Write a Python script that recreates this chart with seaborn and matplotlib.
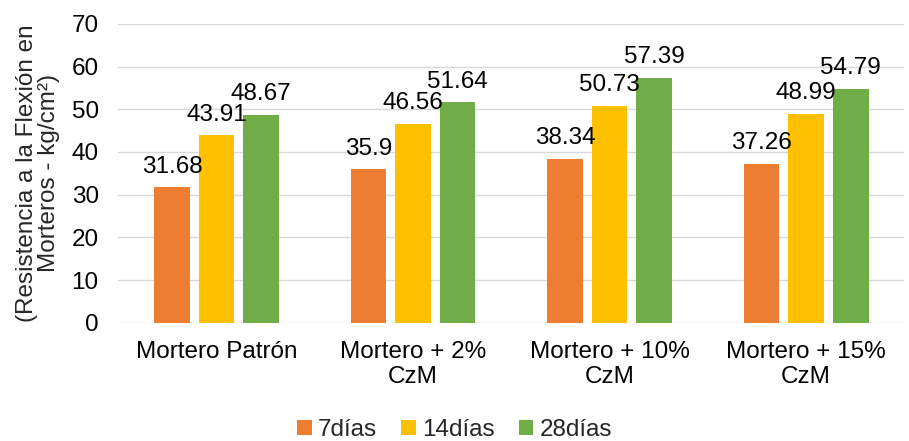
import pandas as pd
import matplotlib.pyplot as plt
import seaborn as sns

# Data
categories = ['Mortero Patrón', 'Mortero + 2%\nCzM', 'Mortero + 10%\nCzM', 'Mortero + 15%\nCzM']
series = ['7días', '14días', '28días']
dias_7 = [31.68, 35.9, 38.34, 37.26]
dias_14 = [43.91, 46.56, 50.73, 48.99]
dias_28 = [48.67, 51.64, 57.39, 54.79]
colors = ['#ED7D31', '#FFC000', '#70AD47']

df = pd.DataFrame({
    'Mezcla': categories * 3,
    'Serie': [s for s in series for _ in categories],
    'Valor': dias_7 + dias_14 + dias_28,
})

sns.set_style('white')
plt.rcParams['font.family'] = ['Liberation Sans', 'DejaVu Sans']
fs = 17.5

fig, ax = plt.subplots(figsize=(9.09, 4.41), dpi=100)
fig.subplots_adjust(left=0.13, right=0.995, top=0.946, bottom=0.268)

sns.barplot(data=df, x='Mezcla', y='Valor', hue='Serie', order=categories,
            hue_order=series, palette=colors, width=0.68, gap=0.2,
            saturation=1, linewidth=0, ax=ax, legend=True)

for container in ax.containers:
    ax.bar_label(container, labels=[f'{v:g}' for v in container.datavalues],
                 padding=7, fontsize=fs, color='#000000')

ax.set_ylim(0, 70)
ax.set_yticks(range(0, 71, 10))
ax.yaxis.grid(True, color='#D9D9D9', linewidth=1)
ax.set_axisbelow(True)
for side in ['top', 'right', 'left', 'bottom']:
    ax.spines[side].set_visible(False)
ax.tick_params(axis='y', length=0, labelsize=fs, colors='#000000', pad=14)
ax.tick_params(axis='x', length=0, labelsize=fs, colors='#000000', pad=13)
for lbl in ax.get_xticklabels():
    lbl.set_linespacing(1.2)
ax.set_xlabel('')
ax.set_ylabel('(Resistencia a la Flexión en\nMorteros - kg/cm²)', fontsize=fs,
              labelpad=8, linespacing=1.0)

handles, labels = ax.get_legend_handles_labels()
ax.legend_.remove()
fig.legend(handles, labels, loc='lower center', bbox_to_anchor=(0.5, -0.05), ncol=3,
           frameon=False, fontsize=fs, handlelength=0.6, handleheight=0.6,
           handletextpad=0.25, columnspacing=1.0)

plt.savefig('out.png', dpi=100)
